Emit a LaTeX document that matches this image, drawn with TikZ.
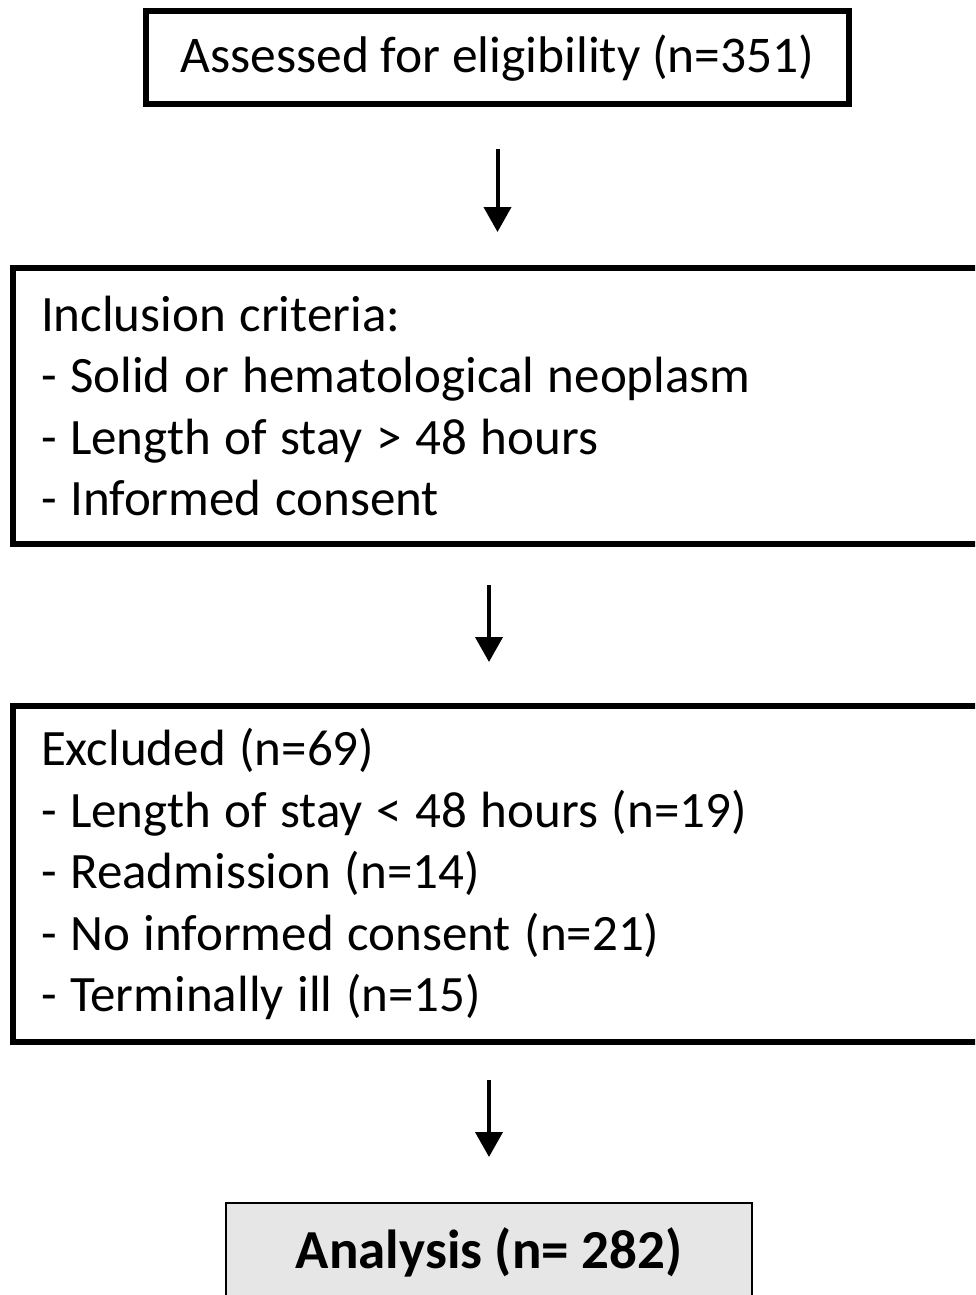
\documentclass[tikz,border=0pt]{standalone}
\usepackage{fontspec}
\setmainfont{Carlito}
\newfontfamily\listfont[WordSpace=1.18]{Carlito}
\usetikzlibrary{arrows.meta,calc}
\definecolor{boxgray}{HTML}{E6E6E6}
\tikzset{
  bigbox/.style={draw=black, line width=6pt, rectangle, inner sep=0pt},
  listbox/.style={bigbox, anchor=north west, align=flush left, text width=1000pt, inner xsep=28pt, inner ysep=0pt},
  arr/.style={-{Triangle[width=27pt,length=25pt]}, line width=4pt},
  itemfont/.style={font=\listfont\fontsize{51}{61.5}\selectfont}
}
\begin{document}
\begin{tikzpicture}[x=1pt,y=-1pt]
\useasboundingbox (0,0) rectangle (975,1295);
\clip (0,0) rectangle (975,1295);
\fill[white] (0,0) rectangle (975,1295);
\node[bigbox, minimum width=703pt, minimum height=93pt, font=\fontsize{51.5}{60}\selectfont] (b1) at (497.5,58) {Assessed for eligibility (n=351)};
\node[listbox, itemfont, minimum height=276pt] (b2) at (10,265) {Inclusion criteria:\\- Solid or hematological neoplasm\\- Length of stay > 48 hours\\- Informed consent};
\node[listbox, itemfont, minimum height=336pt] (b3) at (10,703) {Excluded (n=69)\\- Length of stay < 48 hours (n=19)\\- Readmission (n=14)\\- No informed consent (n=21)\\- Terminally ill (n=15)};
\node[draw=black, line width=2pt, fill=boxgray, minimum width=526pt, minimum height=98pt, inner sep=0pt, font=\bfseries\fontsize{55}{64}\selectfont] (b4) at (489,1252) {Analysis (n= 282)};
\draw[arr, shorten <=41pt, shorten >=33pt] (b1.south) -- (b1.south |- b2.north);
\draw[arr, shorten <=38pt, shorten >=41pt] (b2.south -| b4.north) -- (b3.north -| b4.north);
\draw[arr, shorten <=35pt, shorten >=45pt] (b3.south -| b4.north) -- (b4.north);
\end{tikzpicture}
\end{document}
